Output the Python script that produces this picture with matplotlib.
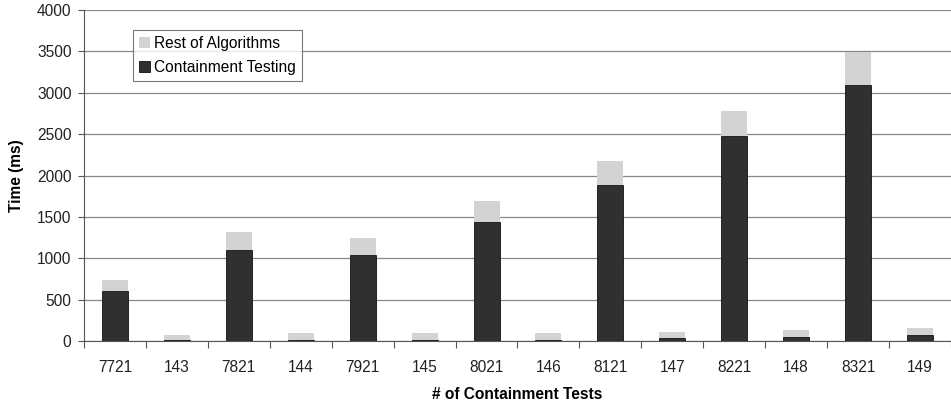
import numpy as np
import matplotlib
matplotlib.use("Agg")
import matplotlib.pyplot as plt
from matplotlib.ticker import FixedLocator

plt.rcParams['font.family'] = ['Liberation Sans', 'DejaVu Sans']

tests = ["7721", "143", "7821", "144", "7921", "145", "8021",
         "146", "8121", "147", "8221", "148", "8321", "149"]
containment = [600, 10, 1100, 10, 1040, 10, 1440, 10, 1880, 36, 2480, 52, 3090, 72]
total = [735, 78, 1315, 95, 1245, 95, 1690, 95, 2175, 112, 2780, 137, 3490, 157]
rest = [t - c for t, c in zip(total, containment)]

fs = 11.2
fig = plt.figure(figsize=(9.51, 4.05), dpi=100)
ax = fig.add_axes([0.0883, 0.158, 0.9117, 0.817])

x = np.arange(len(tests))
ax.bar(x, containment, width=0.42, color="#303030", edgecolor="#111111",
       linewidth=0.6, label="Containment Testing", zorder=3)
ax.bar(x, rest, width=0.42, bottom=containment, color="#d3d3d3",
       edgecolor="none", label="Rest of Algorithms", zorder=3)

ax.set_xlim(-0.5, len(tests) - 0.5)
ax.set_ylim(0, 4000)
ax.set_yticks(range(0, 4001, 500))
ax.set_xticks(x)
ax.set_xticklabels(tests, fontsize=fs, color="#222222")
ax.xaxis.set_minor_locator(FixedLocator(np.arange(-0.5, len(tests), 1.0)))
ax.tick_params(axis="x", which="major", length=0, pad=14)
ax.tick_params(axis="x", which="minor", length=5, width=0.8, color="#555555")
ax.tick_params(axis="y", labelsize=fs, labelcolor="#222222", length=4,
               width=0.8, color="#555555", pad=5)

ax.grid(axis="y", color="#888888", linewidth=0.9, zorder=0)
for s in ["top", "right"]:
    ax.spines[s].set_visible(False)
ax.spines["left"].set_color("#555555")
ax.spines["bottom"].set_color("#555555")

ax.set_ylabel("Time (ms)", fontsize=fs, fontweight="bold", labelpad=9)
ax.set_xlabel("# of Containment Tests", fontsize=fs, fontweight="bold", labelpad=8)

handles, labels = ax.get_legend_handles_labels()
leg = ax.legend(handles[::-1], labels[::-1], loc="upper left",
                bbox_to_anchor=(0.056, 0.94), fontsize=fs, frameon=True,
                fancybox=False, edgecolor="#555555", handlelength=0.7,
                handleheight=0.7, handletextpad=0.3, borderpad=0.4,
                labelspacing=0.55, borderaxespad=0)
leg.get_frame().set_linewidth(0.8)

plt.savefig("out.png", dpi=100)
